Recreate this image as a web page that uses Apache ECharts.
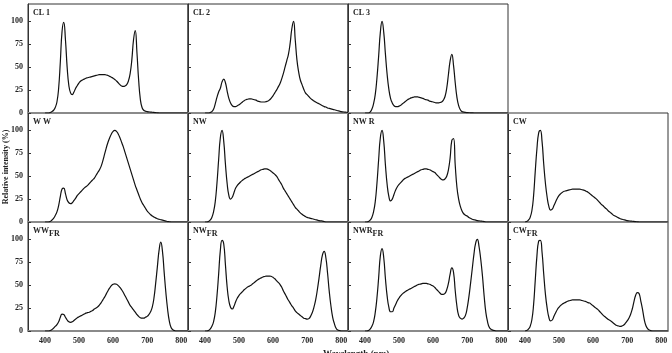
<!DOCTYPE html>
<html>
<head>
<meta charset="utf-8">
<script src="https://cdn.jsdelivr.net/npm/echarts@6/dist/echarts.min.js"></script>
<style>
  html, body { margin: 0; padding: 0; background: #fff; }
  #chart { width: 672px; height: 353px; }
</style>
</head>
<body>
<div id="chart"></div>
<script>
// wavelengths (nm), 5 nm steps 400..820
const wl = [];
for (let w = 400; w <= 820; w += 5) wl.push(w);

const xTicks = [400, 500, 600, 700, 800];
const yTicks = [0, 25, 50, 75, 100];

// relative intensity (%)
const cl1 = [
  0,0,0,0.5,1.5,3,6,12,27,56,
  89,99,80,50,30,22,20,23,27,30,
  33,35,36,37,38,38.5,39,39.5,40,40.5,
  41,41.5,42,42,42,42,41.5,41,40,39,
  38,36.5,35,33,31,29.5,29,29.5,31,35,
  43,58,80,90,66,36,15,6,3,2,
  1.5,1.2,1,0.8,0.6,0.4,0.2,0,0,0,
  0,0,0,0,0,0,0,0,0,0,
  0,0,0,0,0];
const cl2 = [
  0,0,0,0.5,1.5,4,10,17,23,27,
  34,37,33,24,16,11,8,7,7,8,
  9,10.5,12,13.5,14.5,15,15.5,15.5,15,14.5,
  14,13,12.5,12,12,12,12.5,13,14.5,16.5,
  19,22,25,28.5,32,37,43,50,57,64,
  76,92,100,80,58,45,36,31,26,22,
  20,18,16,14.5,13,12,11,10,9,8,
  7,6.5,5.5,5,4.5,4,3.5,3,2.5,2,
  1.5,1.2,1,0.8,0.6];
const cl3 = [
  0,0,0,1,4,10,20,38,62,88,
  100,88,64,42,26,16,11,8,7,7,
  7.5,8.5,10,11.5,13,14.5,15.5,16.5,17,17.5,
  17.5,17.5,17,16.5,16,15,14.5,14,13,12.5,
  12,11.5,11,11,11.5,12,14,18,27,42,
  57,64,52,33,17,8,3.5,1.5,1,0.6,
  0.4,0.3,0.2,0.1,0,0,0,0,0,0,
  0,0,0,0,0,0,0,0,0,0,
  0,0,0,0,0];
const ww = [
  0,0,0,0.5,2,4,7,11,18,28,
  36,37,31,24,21,20,21,23.5,26,29,
  31,33,35,37,38.5,40,42,44,46,48,
  51,54,57,61,67,74,81,87,92,96,
  99,100,99,96,92,87,82,76,70,64,
  58,52,46,40,35,30,25,21,18,15,
  12,10,8,6.5,5.5,4.5,3.5,3,2.5,2,
  1.5,1,0.5,0.3,0,0,0,0,0,0,
  0,0,0,0,0];
const nw = [
  0,0,0.5,2,5,11,22,42,68,92,
  100,88,63,42,29,25,27,32,37,40,
  42,44,45.5,47,48,49,50,51,52,53,
  54,55,56,57,57.5,58,58,57.5,56.5,55,
  53.5,52,50,47,44,41,37,34,31,28,
  25,22,19,16,14,12,10,8.5,7,6,
  5,4.5,4,3.5,3,2.5,2,1.5,1.2,1,
  0.5,0,0,0,0,0,0,0,0,0,
  0,0,0,0,0];
const nwr = [
  0,0,0.5,2,5,11,22,42,68,92,
  100,88,62,41,28,23,25,30,35,38.5,
  41,43,45,47,48,49,50,51,52,53,
  54,55,56,57,57.5,58,58,57.5,57,56,
  55,54,52,50,48,46.5,46,47,50,57,
  70,89,91,62,38,25,17,12,9,7.5,
  6.5,5,4,3,2.5,2,1.5,1.2,1,0.8,
  0.5,0,0,0,0,0,0,0,0,0,
  0,0,0,0,0];
const cw = [
  0,0.5,2,5,12,28,55,80,97,100,
  88,63,42,27,17,13,14,18,22,26,
  29,31,32.5,33.5,34,34.5,35,35.5,36,36,
  36,36,36,35.5,35,34.5,33.5,32.5,31,29.5,
  28,26.5,25,23,21,19,17.5,15.5,14,12,
  10.5,9,7.5,6.5,5.5,4.5,3.5,3,2.5,2,
  1.5,1.2,1,0.8,0.6,0.4,0.2,0,0,0,
  0,0,0,0,0,0,0,0,0,0,
  0,0,0,0,0];
const wwFr = [
  0,0,0,0.5,1.5,3,5,7,10,15,
  18.5,18,15,12,10,9.5,10,11.5,13,14.5,
  15.5,16.5,17.5,18.5,19.5,20,20.5,21.5,22.5,24,
  25,26.5,28.5,31,34,37,40.5,44,47,49.5,
  51,51.5,51,49.5,47.5,45,42,38.5,35,31.5,
  28,25.5,23,20.5,18,16,14.5,14,14,15,
  16,18,21,26,36,52,70,88,97,87,
  64,42,24,11,4,1.5,0.5,0,0,0,
  0,0,0,0,0];
const nwFr = [
  0,0,0.5,2,5,10,20,38,62,88,
  99,95,72,48,33,26,24,27,32,36,
  39,41,43,45,46.5,48,49,50,51.5,53,
  54.5,56,57,58,59,59.5,60,60,60,59.5,
  58.5,57,55,53,51,48,44,40.5,37,33.5,
  30.5,27.5,25,22,20,18.5,17,15.5,14,13.5,
  13,13.5,16,20,26,34,45,58,72,83,
  87,80,63,43,27,15,8,3,1,0.5,
  0,0,0,0,0];
const nwrFr = [
  0,0,0.5,2,5,10,20,36,58,82,
  90,80,57,38,26,21,21,25,29,33,
  36,38.5,40.5,42,43.5,44.5,45.5,46.5,47.5,48.5,
  49.5,50.5,51,51.5,52,52,52,51.5,51,50,
  49,47.5,45.5,43.5,41.5,40,40,41,45,52,
  62,69,64,44,27,17,14,13,14,17,
  25,37,52,68,84,96,100,92,78,60,
  38,20,10,4,2,1,0.5,0,0,0,
  0,0,0,0,0];
const cwFr = [
  0,0.5,2,5,12,28,55,82,98,99,
  86,62,40,25,15,11,12,16,20,23.5,
  26,28,29.5,30.5,31.5,32.5,33,33.5,34,34,
  34,34,34,33.5,33,32.5,32,31,30.5,29,
  27.5,26,24.5,23,21,19,17,15.5,14,12.5,
  11.5,10,8.5,7,6,5.5,5,5.5,6.5,8.5,
  11,14,18,24,32,39,42,41,33,24,
  13,6,2.5,1,0.3,0,0,0,0,0,
  0,0,0,0,0];

// panel name, subscript, data, row, col
const panels = [
  ['CL 1', '', cl1, 0, 0],
  ['CL 2', '', cl2, 0, 1],
  ['CL 3', '', cl3, 0, 2],
  ['W W', '', ww, 1, 0],
  ['NW', '', nw, 1, 1],
  ['NW R', '', nwr, 1, 2],
  ['CW', '', cw, 1, 3],
  ['WW', 'FR', wwFr, 2, 0],
  ['NW', 'FR', nwFr, 2, 1],
  ['NWR', 'FR', nwrFr, 2, 2],
  ['CW', 'FR', cwFr, 2, 3]
];

const serif = 'Liberation Serif';
const colLeft = [28, 188, 348, 508];
const rowTop = [4, 113, 222];
const W = 160, H = 109;

const grids = [], xAxes = [], yAxes = [], series = [], graphics = [];

panels.forEach((p, i) => {
  const [name, sub, vals, row, col] = p;
  grids.push({
    left: colLeft[col], top: rowTop[row], width: W, height: H,
    show: true, borderColor: '#333', borderWidth: 1, backgroundColor: 'transparent'
  });
  xAxes.push({
    type: 'value', gridIndex: i, min: 350, max: 820,
    axisLine: { show: true, onZero: false, lineStyle: { color: '#8a8a8a', width: 2 } },
    axisTick: { show: false },
    splitLine: { show: false },
    axisLabel: {
      show: row === 2, customValues: xTicks, margin: 6,
      fontSize: 8, fontWeight: 'bold', fontFamily: serif, color: '#222'
    }
  });
  yAxes.push({
    type: 'value', gridIndex: i, min: 0, max: 119,
    axisLine: { show: true, lineStyle: { color: '#333', width: 1 } },
    axisTick: { show: true, inside: true, length: 3, customValues: yTicks, lineStyle: { color: '#333' } },
    splitLine: { show: false },
    axisLabel: {
      show: col === 0, customValues: yTicks, margin: 5,
      fontSize: 8, fontWeight: 'bold', fontFamily: serif, color: '#222'
    }
  });
  series.push({
    type: 'line', xAxisIndex: i, yAxisIndex: i,
    data: wl.map((w, j) => [w, vals[j]]),
    showSymbol: false, smooth: 0.5,
    lineStyle: { color: '#111', width: 1.2 },
    silent: true
  });
  graphics.push({
    type: 'text', left: colLeft[col] + 5, top: rowTop[row] + 5,
    style: {
      text: sub ? '{a|' + name + '}{b|' + sub + '}' : '{a|' + name + '}',
      rich: {
        a: { fontSize: 8, fontWeight: 'bold', fontFamily: serif, fill: '#222' },
        b: { fontSize: 8, fontWeight: 'bold', fontFamily: serif, fill: '#222', padding: [5, 0, 0, 0] }
      }
    }
  });
});

graphics.push({
  type: 'text', x: 6, y: 167, rotation: Math.PI / 2,
  style: {
    text: 'Relative intensity (%)', fontSize: 8, fontWeight: 'bold', fontFamily: serif,
    fill: '#222', align: 'center', verticalAlign: 'middle'
  }
});
graphics.push({
  type: 'text', x: 356, y: 354,
  style: {
    text: 'Wavelength (nm)', fontSize: 9, fontWeight: 'bold', fontFamily: serif,
    fill: '#222', align: 'center', verticalAlign: 'middle'
  }
});

const chart = echarts.init(document.getElementById('chart'));
chart.setOption({
  animation: false,
  backgroundColor: '#fff',
  grid: grids,
  xAxis: xAxes,
  yAxis: yAxes,
  series: series,
  graphic: graphics
});
</script>
</body>
</html>
